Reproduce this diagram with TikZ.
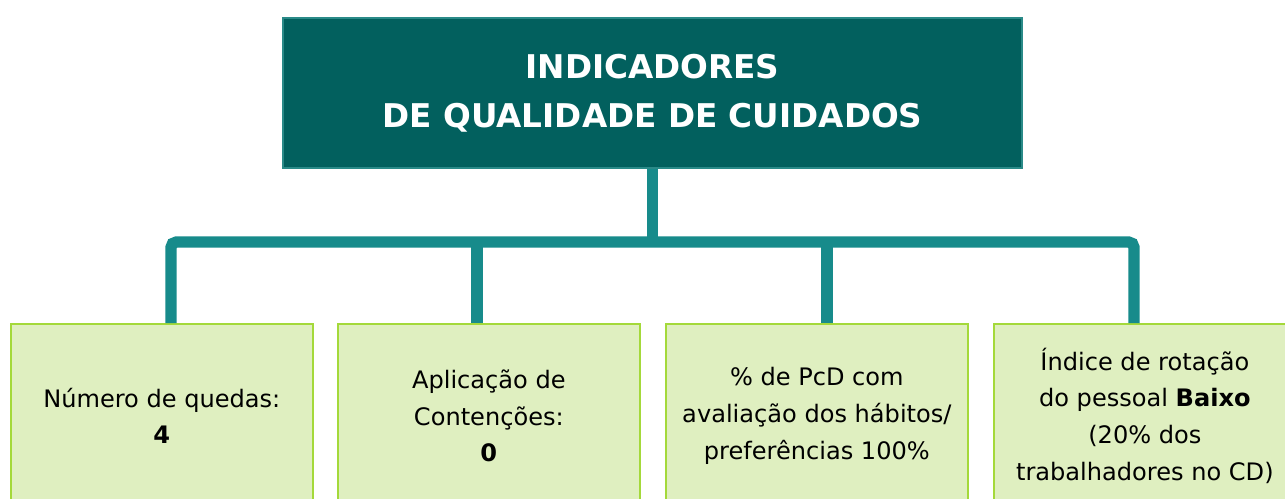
\documentclass[tikz,border=0pt]{standalone}
\usepackage{xcolor}
\usepackage{fontspec}
\setmainfont{DejaVu Sans}
\usetikzlibrary{positioning,calc}

\definecolor{tealdark}{HTML}{02605E}
\definecolor{tealedge}{HTML}{2A8A88}
\definecolor{teallink}{HTML}{178B8B}
\definecolor{greenfill}{HTML}{DFEFC0}
\definecolor{greenedge}{HTML}{A4D93A}

\tikzset{
  titlebox/.style={draw=tealedge, line width=0.8pt, fill=tealdark, text=white,
    font=\fontsize{18.6}{28}\selectfont\bfseries, align=center,
    minimum width=14.78cm, minimum height=3cm, inner sep=0pt},
  itembox/.style={draw=greenedge, line width=1pt, fill=greenfill, text=black,
    font=\fontsize{13.7}{21}\selectfont, align=center,
    minimum width=6.04cm, minimum height=3.68cm, inner sep=0pt, anchor=north west},
  link/.style={draw=teallink, line width=6.4pt, rounded corners=3pt}
}

\begin{document}
\begin{tikzpicture}[x=0.02cm,y=-0.02cm]
  \clip (0,0) rectangle (1285,498);
  \fill[white] (0,0) rectangle (1285,498);

  % top: title
  \node[titlebox] (title) at (652.5,93) {INDICADORES\\DE QUALIDADE DE CUIDADOS};

  % bottom: four indicators
  \node[itembox] (queda) at (10,323) {N\'umero de quedas:\\\textbf{4}};
  \node[itembox] (cont) at (337,323) {Aplica\c{c}\~ao de\\Conten\c{c}\~oes:\\\textbf{0}};
  \node[itembox] (habit) at (665,323) {\% de PcD com\\avalia\c{c}\~ao dos h\'abitos/\\prefer\^encias 100\%};
  \node[itembox] (rotac) at (993,323) {\'Indice de rota\c{c}\~ao\\do pessoal \textbf{Baixo}\\(20\% dos\\trabalhadores no CD)};

  % bus
  \coordinate (bus) at (652.5,242);
  \coordinate (j1) at (171,242);
  \coordinate (j2) at (477,242);
  \coordinate (j3) at (827,242);
  \coordinate (j4) at (1134,242);

  \draw[link] (title.south) -- (bus);
  \draw[link] (j1 |- queda.north) -- (j1) -- (j4) -- (j4 |- rotac.north);
  \draw[link] (j2) -- (j2 |- cont.north);
  \draw[link] (j3) -- (j3 |- habit.north);
\end{tikzpicture}
\end{document}
